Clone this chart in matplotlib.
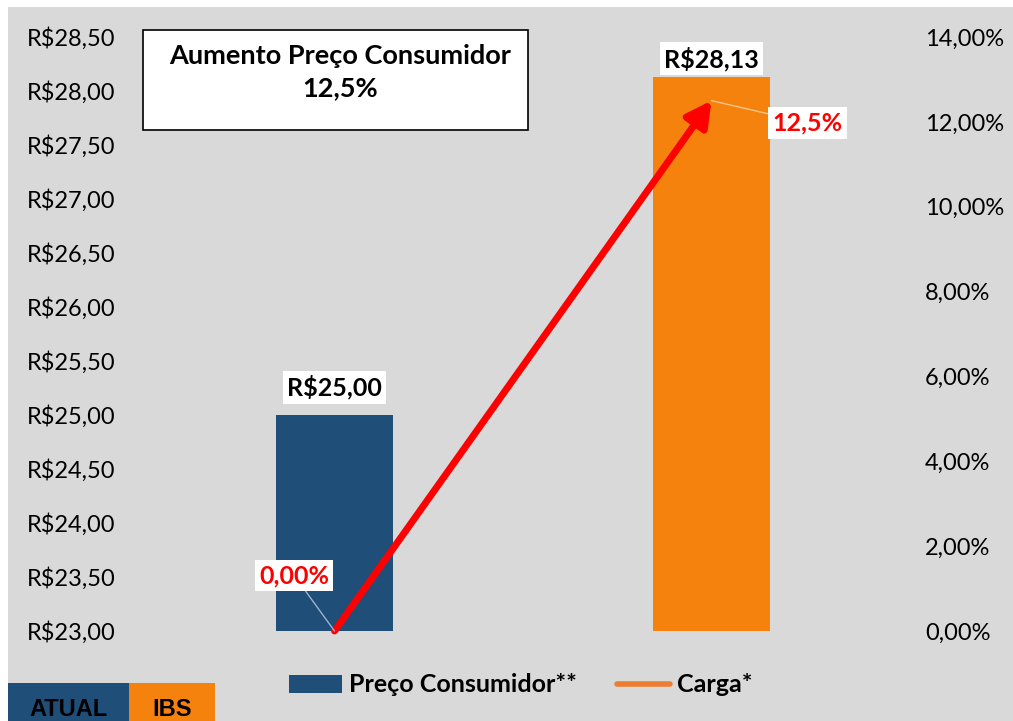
import matplotlib.pyplot as plt
from matplotlib.patches import Rectangle
from matplotlib.lines import Line2D

# Data
categories = ["ATUAL", "IBS"]
precos = [25.00, 28.13]
carga = [0.0, 12.5]
preco_labels = ["R$25,00", "R$28,13"]
carga_labels = ["0,00%", "12,5%"]
left_ticks = [23.0 + 0.5 * i for i in range(12)]
right_ticks = [0, 2, 4, 6, 8, 10, 12, 14]

BLUE = "#1f4e79"
ORANGE = "#f5820d"
GRAY = "#d9d9d9"

plt.rcParams["font.family"] = ["Lato", "DejaVu Sans"]
FS = 18

fig = plt.figure(figsize=(10.13, 7.21), dpi=100, facecolor="white")
W, H = 1013, 721

# gray background panel (small white margin at top and left)
fig.patches.append(Rectangle((8 / W, 0), 1, 1 - 7 / H, transform=fig.transFigure,
                             facecolor=GRAY, edgecolor="none", zorder=-10))

ax = fig.add_axes([146 / W, 1 - 631 / H, (900 - 146) / W, (631 - 37) / H])
ax.set_facecolor("none")
x = list(range(len(categories)))
ax.bar(x, [p - 23.0 for p in precos], bottom=23.0, width=0.31,
       color=[BLUE, ORANGE], zorder=2)
ax.set_xlim(-0.5, 1.5)
ax.set_ylim(23.0, 28.5)
ax.set_yticks(left_ticks)
ax.set_yticklabels([f"R${v:.2f}".replace(".", ",") for v in left_ticks], fontsize=17)
ax.set_xticks([])
for s in ax.spines.values():
    s.set_visible(False)
ax.tick_params(axis="y", length=0, pad=22)

# value labels above the bars
label_dy = [20, 13]
for xi, p, lab, dy in zip(x, precos, preco_labels, label_dy):
    ax.annotate(lab, (xi, p), xytext=(0, dy), textcoords="offset points",
                ha="center", va="center", fontsize=FS, fontweight="bold",
                bbox=dict(facecolor="white", edgecolor="none", pad=3), zorder=5)

ax2 = ax.twinx()
ax2.set_ylim(0, 14)
ax2.set_yticks(right_ticks)
ax2.set_yticklabels([f"{v:.2f}%".replace(".", ",") for v in right_ticks], fontsize=17)
ax2.tick_params(axis="y", length=0, pad=18)
for s in ax2.spines.values():
    s.set_visible(False)

# carga line drawn as a red arrow
ax2.plot(x, carga, color=ORANGE, lw=1, zorder=3)
ax2.annotate("", xy=(x[1], carga[1]), xytext=(x[0], carga[0]),
             arrowprops=dict(arrowstyle="-|>,head_length=1.5,head_width=0.8",
                             color="#ff0000", lw=5, shrinkA=0, shrinkB=0),
             zorder=4)

# data labels for the line with leader lines
offsets = [(-29, 40), (69, -16)]
leader_col = ["#9db3cc", "#fbc58a"]
for xi, c, lab, off, lc in zip(x, carga, carga_labels, offsets, leader_col):
    ax2.annotate(lab, (xi, c), xytext=off, textcoords="offset points",
                 ha="center", va="center", fontsize=FS, fontweight="bold",
                 color="#ff0000",
                 bbox=dict(facecolor="white", edgecolor="none", pad=3),
                 arrowprops=dict(arrowstyle="-", color=lc, lw=1,
                                 shrinkA=0, shrinkB=0),
                 zorder=5)

# title box
fig.patches.append(Rectangle((143 / W, 1 - 130 / H), 385 / W, 100 / H,
                             transform=fig.transFigure, facecolor="white",
                             edgecolor="black", lw=1.2, zorder=1))
fig.text(340 / W, 1 - 72 / H, "Aumento Preço Consumidor\n12,5%", ha="center", va="center",
         fontsize=19.5, fontweight="bold", linespacing=1.45, zorder=2)

# legend
handles = [Rectangle((0, 0), 1, 1, facecolor=BLUE),
           Line2D([0], [0], color="#ed7d31", lw=4, solid_capstyle="round")]
leg = fig.legend(handles, ["Preço Consumidor**", "Carga*"], loc="center",
                 bbox_to_anchor=(521 / W, 1 - 685 / H), ncol=2, frameon=False,
                 prop={"size": FS, "weight": "bold"}, handlelength=2.1,
                 handletextpad=0.3, columnspacing=1.6)

# category boxes at the bottom left
for (x0, x1), lab, col in zip([(8, 129), (129, 215)], categories, [BLUE, ORANGE]):
    fig.patches.append(Rectangle((x0 / W, 0), (x1 - x0) / W, 38 / H,
                                 transform=fig.transFigure, facecolor=col,
                                 edgecolor="none", zorder=1))
    fig.text((x0 + x1) / 2 / W, 12 / H, lab, ha="center", va="center",
             fontsize=17, fontweight="bold", family=["Liberation Sans", "DejaVu Sans"])

fig.savefig("out.png", dpi=100, facecolor=fig.get_facecolor())
